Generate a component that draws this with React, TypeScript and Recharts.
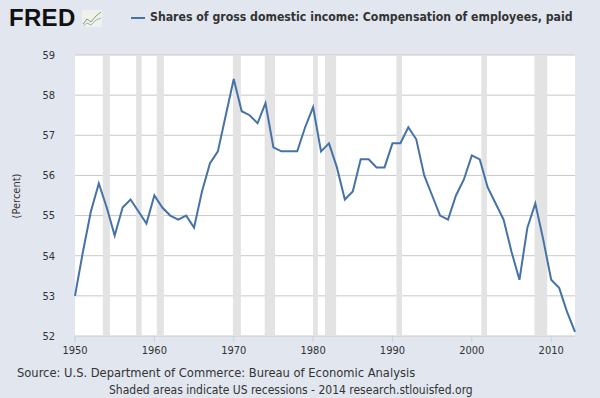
import React from "react"
import {
	LineChart,
	Line,
	XAxis,
	YAxis,
	CartesianGrid,
	ReferenceArea,
} from "recharts"

const years = [
	1950, 1951, 1952, 1953, 1954, 1955, 1956, 1957, 1958, 1959,
	1960, 1961, 1962, 1963, 1964, 1965, 1966, 1967, 1968, 1969,
	1970, 1971, 1972, 1973, 1974, 1975, 1976, 1977, 1978, 1979,
	1980, 1981, 1982, 1983, 1984, 1985, 1986, 1987, 1988, 1989,
	1990, 1991, 1992, 1993, 1994, 1995, 1996, 1997, 1998, 1999,
	2000, 2001, 2002, 2003, 2004, 2005, 2006, 2007, 2008, 2009,
	2010, 2011, 2012, 2013,
]

const shares = [
	53.0, 54.1, 55.1, 55.8, 55.2, 54.5, 55.2, 55.4, 55.1, 54.8,
	55.5, 55.2, 55.0, 54.9, 55.0, 54.7, 55.6, 56.3, 56.6, 57.5,
	58.4, 57.6, 57.5, 57.3, 57.8, 56.7, 56.6, 56.6, 56.6, 57.2,
	57.7, 56.6, 56.8, 56.2, 55.4, 55.6, 56.4, 56.4, 56.2, 56.2,
	56.8, 56.8, 57.2, 56.9, 56.0, 55.5, 55.0, 54.9, 55.5, 55.9,
	56.5, 56.4, 55.7, 55.3, 54.9, 54.1, 53.4, 54.7, 55.3, 54.4,
	53.4, 53.2, 52.6, 52.1,
]

// recession periods (start, end) in fractional years
const recessionStarts = [1953.5, 1957.7, 1960.3, 1969.9, 1973.9, 1980.0, 1981.5, 1990.5, 2001.2, 2007.9]
const recessionEnds = [1954.4, 1958.4, 1961.2, 1970.9, 1975.2, 1980.6, 1982.9, 1991.2, 2001.9, 2009.5]

const xTicks = [1950, 1960, 1970, 1980, 1990, 2000, 2010]
const yTicks = [52, 53, 54, 55, 56, 57, 58, 59]

const seriesName = "Shares of gross domestic income: Compensation of employees, paid"

const data = years.map((y, i) => ({ year: y, value: shares[i] }))

const font = "'DejaVu Sans Condensed', 'DejaVu Sans', sans-serif"

const PercentLabel = () => (
	<text
		x={0}
		y={0}
		transform="translate(20, 196) rotate(-90)"
		textAnchor="middle"
		fontSize={11}
		fill="#333"
		fontFamily={font}
	>
		(Percent)
	</text>
)

export default function App() {
	return (
		<div
			style={{
				position: "fixed",
				left: 0,
				top: 0,
				width: 600,
				height: 398,
				background: "#e1e6ef",
				fontFamily: font,
				overflow: "hidden",
			}}
		>
			<div
				style={{
					position: "absolute",
					left: 9,
					top: 4,
					fontFamily: "'Liberation Sans', Arial, sans-serif",
					fontWeight: 900,
					fontSize: 24,
					letterSpacing: 0.3,
					color: "#111",
				}}
			>
				FRED
			</div>
			<svg style={{ position: "absolute", left: 82, top: 10 }} width={20} height={17}>
				<rect x={0} y={0} width={20} height={17} fill="#eef1ec" />
				<polyline points="1,14 5,9 9,12 14,6 19,2" fill="none" stroke="#7aa86a" strokeWidth={1} />
				<polyline points="1,16 5,13 9,15 14,10 19,8" fill="none" stroke="#9ab0c8" strokeWidth={1} />
			</svg>
			<div
				style={{
					position: "absolute",
					left: 131,
					top: 17,
					width: 14,
					height: 2,
					background: "#4572a7",
				}}
			/>
			<div
				style={{
					position: "absolute",
					left: 150,
					top: 10,
					fontSize: 12.2,
					fontWeight: "bold",
					color: "#333",
					whiteSpace: "nowrap",
				}}
			>
				{seriesName}
			</div>
			<LineChart
				width={600}
				height={398}
				data={data}
				margin={{ top: 55, right: 25, bottom: 32, left: 0 }}
			>
				<CartesianGrid vertical={false} stroke="#c8c8c8" fill="#ffffff" />
				{recessionStarts.map((s, i) => (
					<ReferenceArea
						key={s}
						x1={s}
						x2={recessionEnds[i]}
						fill="#e3e3e3"
						fillOpacity={1}
						stroke="none"
						ifOverflow="hidden"
					/>
				))}
				<XAxis
					dataKey="year"
					type="number"
					domain={[1950, 2013]}
					ticks={xTicks}
					axisLine={false}
					tickSize={6}
					tickMargin={4}
					tickLine={{ stroke: "#c8d0dc" }}
					height={30}
					tick={{ fontSize: 11, fill: "#333", fontFamily: font }}
				/>
				<YAxis
					domain={[52, 59]}
					ticks={yTicks}
					axisLine={false}
					tickLine={false}
					tickSize={5}
					tickMargin={15}
					width={75}
					tick={{ fontSize: 11, fill: "#333", fontFamily: font }}
					label={<PercentLabel />}
				/>
				<Line
					type="linear"
					dataKey="value"
					stroke="#4572a7"
					strokeWidth={2}
					dot={false}
					isAnimationActive={false}
				/>
			</LineChart>
			<div
				style={{
					position: "absolute",
					left: 17,
					top: 366,
					fontSize: 12.8,
					lineHeight: "14px",
					color: "#333",
					whiteSpace: "nowrap",
				}}
			>
				Source: U.S. Department of Commerce: Bureau of Economic Analysis
			</div>
			<div
				style={{
					position: "absolute",
					left: 109,
					top: 383,
					fontSize: 12,
					lineHeight: "14px",
					color: "#333",
					whiteSpace: "nowrap",
				}}
			>
				Shaded areas indicate US recessions - 2014 research.stlouisfed.org
			</div>
		</div>
	)
}
